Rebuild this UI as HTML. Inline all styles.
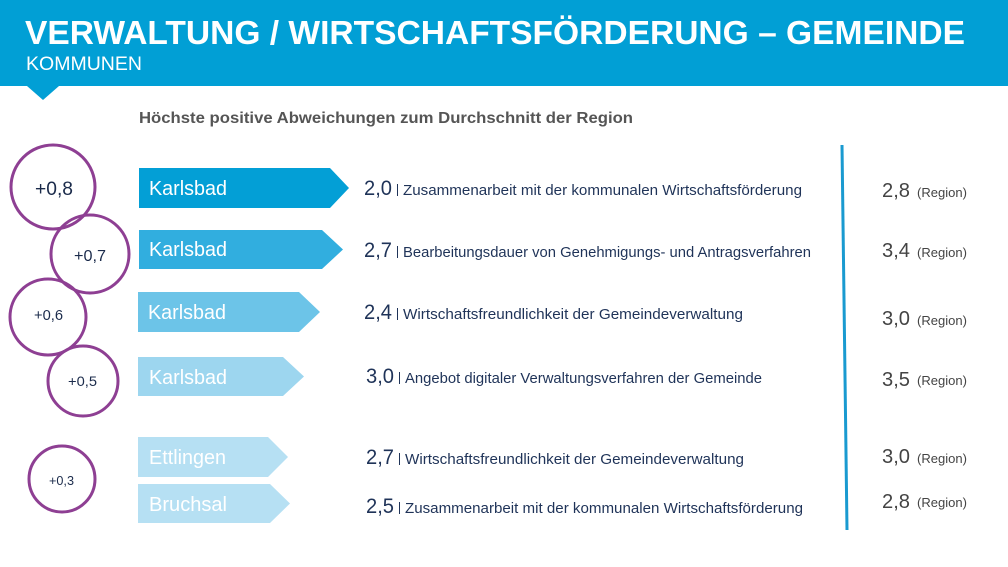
<!DOCTYPE html>
<html><head><meta charset="utf-8"><style>
html,body{margin:0;padding:0;background:#fff;width:1008px;height:567px;overflow:hidden}
svg{display:block}
text{font-family:"Liberation Sans",Arial,sans-serif}
</style></head><body>
<svg width="1008" height="567" viewBox="0 0 1008 567" xmlns="http://www.w3.org/2000/svg">
<rect x="0" y="0" width="1008" height="86" fill="#019fd5"/>
<polygon points="27,86 59,86 43,100" fill="#019fd5"/>
<text x="25" y="44" font-size="33.5" font-weight="bold" fill="#fff" textLength="940" lengthAdjust="spacingAndGlyphs">VERWALTUNG / WIRTSCHAFTSFÖRDERUNG – GEMEINDE</text>
<text x="26" y="70" font-size="19" fill="#fff" textLength="116" lengthAdjust="spacingAndGlyphs">KOMMUNEN</text>
<text x="139" y="123" font-size="16" font-weight="bold" fill="#555" textLength="494" lengthAdjust="spacingAndGlyphs">Höchste positive Abweichungen zum Durchschnitt der Region</text>

<g fill="none" stroke="#8e3f93" stroke-width="3">
<circle cx="53" cy="187" r="42"/>
<circle cx="90" cy="254" r="39"/>
<circle cx="48" cy="317" r="38"/>
<circle cx="83" cy="381" r="35"/>
<circle cx="62" cy="479" r="33"/>
</g>
<g fill="#1b2b4b">
<text x="35" y="195" font-size="19" textLength="38" lengthAdjust="spacingAndGlyphs">+0,8</text>
<text x="74" y="261" font-size="16" textLength="32" lengthAdjust="spacingAndGlyphs">+0,7</text>
<text x="34" y="320" font-size="14.5" textLength="29" lengthAdjust="spacingAndGlyphs">+0,6</text>
<text x="68" y="386" font-size="14" textLength="29" lengthAdjust="spacingAndGlyphs">+0,5</text>
<text x="49" y="485" font-size="13" textLength="25" lengthAdjust="spacingAndGlyphs">+0,3</text>
</g>

<polygon points="139,168 330,168 349,188 330,208 139,208" fill="#039fd6"/>
<polygon points="139,230 322,230 343,249.5 322,269 139,269" fill="#31aedf"/>
<polygon points="138,292 299,292 320,312 299,332 138,332" fill="#6cc4e8"/>
<polygon points="138,357 283,357 304,376.5 283,396 138,396" fill="#9dd6ef"/>
<polygon points="138,437 268,437 288,457 268,477 138,477" fill="#b6e0f3"/>
<polygon points="138,484 270,484 290,503.5 270,523 138,523" fill="#b6e0f3"/>
<g fill="#fff" font-size="20">
<text x="149" y="195" textLength="78" lengthAdjust="spacingAndGlyphs">Karlsbad</text>
<text x="149" y="256" textLength="78" lengthAdjust="spacingAndGlyphs">Karlsbad</text>
<text x="148" y="319" textLength="78" lengthAdjust="spacingAndGlyphs">Karlsbad</text>
<text x="149" y="384" textLength="78" lengthAdjust="spacingAndGlyphs">Karlsbad</text>
<text x="149" y="464" textLength="77" lengthAdjust="spacingAndGlyphs">Ettlingen</text>
<text x="149" y="511" textLength="78" lengthAdjust="spacingAndGlyphs">Bruchsal</text>
</g>

<g fill="#1f3358">
<text x="364" y="195" font-size="21" textLength="28" lengthAdjust="spacingAndGlyphs">2,0</text>
<text x="364" y="257" font-size="21" textLength="28" lengthAdjust="spacingAndGlyphs">2,7</text>
<text x="364" y="319" font-size="21" textLength="28" lengthAdjust="spacingAndGlyphs">2,4</text>
<text x="366" y="383" font-size="21" textLength="28" lengthAdjust="spacingAndGlyphs">3,0</text>
<text x="366" y="464" font-size="21" textLength="28" lengthAdjust="spacingAndGlyphs">2,7</text>
<text x="366" y="513" font-size="21" textLength="28" lengthAdjust="spacingAndGlyphs">2,5</text>
</g>
<g stroke="#1f3358" stroke-width="1">
<line x1="397.5" y1="184" x2="397.5" y2="196"/>
<line x1="397.5" y1="246" x2="397.5" y2="258"/>
<line x1="397.5" y1="308" x2="397.5" y2="320"/>
<line x1="399.5" y1="372" x2="399.5" y2="384"/>
<line x1="399.5" y1="453" x2="399.5" y2="465"/>
<line x1="399.5" y1="502" x2="399.5" y2="514"/>
</g>
<g fill="#1f3358" font-size="15">
<text x="403" y="195" textLength="399" lengthAdjust="spacingAndGlyphs">Zusammenarbeit mit der kommunalen Wirtschaftsförderung</text>
<text x="403" y="257" textLength="408" lengthAdjust="spacingAndGlyphs">Bearbeitungsdauer von Genehmigungs- und Antragsverfahren</text>
<text x="403" y="319" textLength="340" lengthAdjust="spacingAndGlyphs">Wirtschaftsfreundlichkeit der Gemeindeverwaltung</text>
<text x="405" y="383" textLength="357" lengthAdjust="spacingAndGlyphs">Angebot digitaler Verwaltungsverfahren der Gemeinde</text>
<text x="405" y="464" textLength="339" lengthAdjust="spacingAndGlyphs">Wirtschaftsfreundlichkeit der Gemeindeverwaltung</text>
<text x="405" y="513" textLength="398" lengthAdjust="spacingAndGlyphs">Zusammenarbeit mit der kommunalen Wirtschaftsförderung</text>
</g>

<line x1="842" y1="145" x2="847" y2="530" stroke="#1a9ad0" stroke-width="3"/>

<g fill="#444">
<text x="882" y="197" font-size="20" textLength="28" lengthAdjust="spacingAndGlyphs">2,8</text>
<text x="882" y="257" font-size="20" textLength="28" lengthAdjust="spacingAndGlyphs">3,4</text>
<text x="882" y="325" font-size="20" textLength="28" lengthAdjust="spacingAndGlyphs">3,0</text>
<text x="882" y="386" font-size="20" textLength="28" lengthAdjust="spacingAndGlyphs">3,5</text>
<text x="882" y="463" font-size="20" textLength="28" lengthAdjust="spacingAndGlyphs">3,0</text>
<text x="882" y="508" font-size="20" textLength="28" lengthAdjust="spacingAndGlyphs">2,8</text>
</g>
<g fill="#444" font-size="13">
<text x="917" y="197" textLength="50" lengthAdjust="spacingAndGlyphs">(Region)</text>
<text x="917" y="257" textLength="50" lengthAdjust="spacingAndGlyphs">(Region)</text>
<text x="917" y="325" textLength="50" lengthAdjust="spacingAndGlyphs">(Region)</text>
<text x="917" y="385" textLength="50" lengthAdjust="spacingAndGlyphs">(Region)</text>
<text x="917" y="463" textLength="50" lengthAdjust="spacingAndGlyphs">(Region)</text>
<text x="917" y="507" textLength="50" lengthAdjust="spacingAndGlyphs">(Region)</text>
</g>
</svg>
</body></html>
